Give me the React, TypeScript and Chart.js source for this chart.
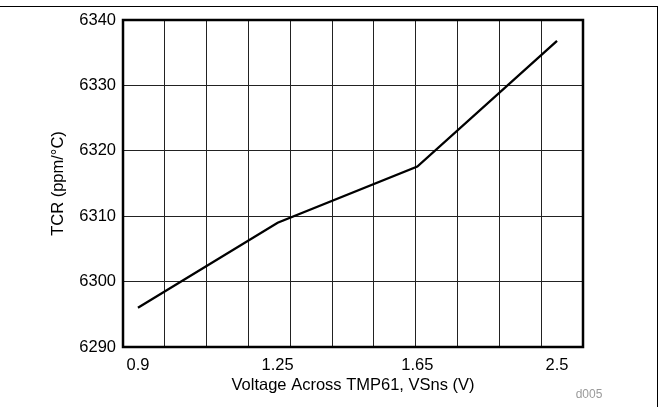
import React, { useEffect, useRef } from "react";
import { Chart, registerables } from "chart.js";

Chart.register(...registerables);

const xLabels = ["0.9", "1.25", "1.65", "2.5"];
const tcrValues = [6296.0, 6309.0, 6317.6, 6336.8];
const yTicks = [6290, 6300, 6310, 6320, 6330, 6340];
const xTitle = "Voltage Across TMP61, VSns (V)";
const yTitle = "TCR (ppm/°C)";
const figId = "d005";

const FONT = "Arial, 'Liberation Sans', Helvetica, sans-serif";

export default function App() {
  const ref = useRef<HTMLCanvasElement | null>(null);
  useEffect(() => {
    document.body.style.margin = "0";
    const ctx = ref.current!.getContext("2d")!;
    const framePlugin = {
      id: "frameBox",
      afterDatasetsDraw(chart: any) {
        const { ctx, chartArea } = chart;
        ctx.save();
        ctx.strokeStyle = "#000";
        ctx.lineWidth = 2.5;
        ctx.strokeRect(
          chartArea.left,
          chartArea.top,
          chartArea.right - chartArea.left,
          chartArea.bottom - chartArea.top
        );
        ctx.restore();
      },
      afterDraw(chart: any) {
        const { ctx } = chart;
        ctx.save();
        ctx.fillStyle = "#9a9a9a";
        ctx.font = `12px ${FONT}`;
        ctx.textAlign = "center";
        ctx.textBaseline = "middle";
        ctx.fillText(figId, 589, 395);
        ctx.restore();
      },
    };
    const chart = new Chart(ctx, {
      type: "line",
      data: {
        datasets: [
          {
            data: tcrValues.map((v, i) => ({ x: i, y: v })),
            borderColor: "#000",
            borderWidth: 2.3,
            pointRadius: 0,
            tension: 0,
            xAxisID: "x",
            yAxisID: "y",
          },
        ],
      },
      options: {
        animation: false,
        responsive: false,
        layout: { padding: { top: 20, right: 86, left: 0, bottom: 0 } },
        plugins: { legend: { display: false }, tooltip: { enabled: false } },
        scales: {
          x: {
            type: "linear",
            position: "bottom",
            min: -0.107,
            max: 3.186,
            afterBuildTicks: (s: any) => {
              s.ticks = xLabels.map((_, i) => ({ value: i }));
            },
            afterFit: (s: any) => {
              s.height = 60;
            },
            grid: { display: false, drawTicks: false },
            border: { display: false },
            ticks: {
              color: "#000",
              font: { family: FONT, size: 16.5 },
              padding: 9,
              maxRotation: 0,
              autoSkip: false,
              callback: (v: any) => xLabels[Number(v)] ?? "",
            },
            title: {
              display: true,
              text: xTitle,
              color: "#000",
              font: { family: FONT, size: 16.5 },
              padding: { top: 0, bottom: 12 },
            },
          },
          xg: {
            type: "linear",
            position: "bottom",
            min: 0,
            max: 11,
            afterFit: (s: any) => {
              s.height = 0;
            },
            ticks: { display: false, stepSize: 1 },
            grid: { color: "#222", lineWidth: 1, drawTicks: false },
            border: { display: false },
          },
          y: {
            type: "linear",
            min: 6290,
            max: 6340,
            afterBuildTicks: (s: any) => {
              s.ticks = yTicks.map((v) => ({ value: v }));
            },
            afterFit: (s: any) => {
              s.width = 123;
            },
            grid: { color: "#222", lineWidth: 1, drawTicks: false },
            border: { display: false },
            ticks: {
              color: "#000",
              font: { family: FONT, size: 16.5 },
              padding: 7,
              callback: (v: any) => String(v),
            },
            title: {
              display: true,
              text: yTitle,
              color: "#000",
              font: { family: FONT, size: 16.5 },
              padding: { top: 49, bottom: 0 },
            },
          },
        },
      },
      plugins: [framePlugin],
    });
    return () => chart.destroy();
  }, []);
  return (
    <div style={{ position: "relative", width: 669, height: 407, overflow: "hidden", background: "#fff" }}>
      <div
        style={{
          position: "absolute",
          left: -2,
          top: 6,
          width: 660,
          height: 420,
          borderTop: "1.5px solid #000",
          borderRight: "1.5px solid #000",
          boxSizing: "border-box",
        }}
      />
      <canvas ref={ref} width={669} height={407} style={{ position: "absolute", left: 0, top: 0 }} />
    </div>
  );
}
